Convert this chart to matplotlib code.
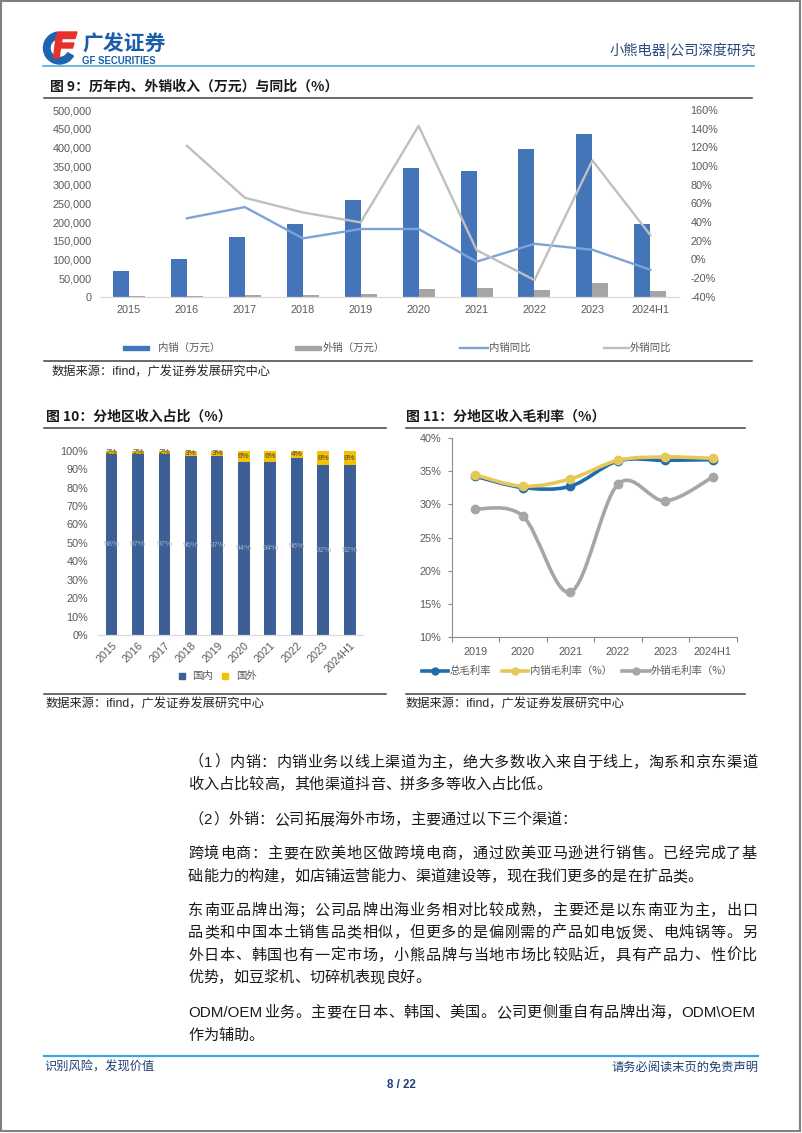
import matplotlib
matplotlib.use('Agg')
import matplotlib.pyplot as plt
import numpy as np
from matplotlib.path import Path
from matplotlib.patches import PathPatch, Rectangle, Wedge, Polygon
from matplotlib.lines import Line2D
from matplotlib.ticker import FuncFormatter, FixedLocator

plt.rcParams['font.family'] = ['Liberation Sans', 'Noto Sans CJK SC']

# ---------------- data ----------------
years = ['2015', '2016', '2017', '2018', '2019', '2020', '2021', '2022', '2023', '2024H1']
dom_rev = [70000, 101000, 159000, 196000, 260000, 345000, 336000, 395000, 435000, 195000]
exp_rev = [1400, 2100, 3300, 5800, 8200, 20000, 22500, 17000, 36000, 16000]
dom_yoy = [np.nan, 44.0, 56.0, 22.5, 32.5, 32.5, -2.5, 16.7, 10.3, -11.1]
exp_yoy = [np.nan, 121.7, 66.0, 50.3, 39.6, 143.0, 10.0, -22.2, 106.0, 26.0]

share_dom = [98, 97, 97, 96, 97, 94, 94, 96, 92, 92]
share_exp = [2, 2, 2, 3, 3, 6, 6, 4, 8, 8]

gm_years = ['2019', '2020', '2021', '2022', '2023', '2024H1']
gm_total = [34.2, 32.5, 32.7, 36.5, 36.6, 36.7]
gm_dom = [34.4, 32.7, 33.8, 36.6, 37.1, 36.9]
gm_exp = [29.3, 28.2, 16.8, 33.0, 30.5, 34.1]

W, H = 802, 1133
fig = plt.figure(figsize=(W / 100, H / 100), dpi=100)
fig.patch.set_facecolor('white')

def axrect(x0, y0, x1, y1):
    return [x0 / W, 1 - y1 / H, (x1 - x0) / W, (y1 - y0) / H]

# overlay in pixel coordinates
ov = fig.add_axes([0, 0, 1, 1], zorder=0)
ov.set_xlim(0, W)
ov.set_ylim(H, 0)
ov.axis('off')

TICK_C = '#595959'
TFS = 7.8
CJK = 'Noto Sans CJK SC'
MIX = ['Liberation Sans', 'Noto Sans CJK SC']

# page border
ov.add_patch(Rectangle((1, 1), 799, 1130, fill=False, ec='#808080', lw=1.5))

# ---------------- header ----------------
ov.add_patch(Wedge((59.5, 48), 16, 30, 262, width=6.5, color='#1E63B0'))
ov.add_patch(Polygon([(58, 32), (77, 32), (75, 38.5), (56, 38.5)], color='#E8302A'))
ov.add_patch(Polygon([(61, 43), (74, 43), (72.5, 48), (59.5, 48)], color='#E8302A'))
ov.add_patch(Polygon([(56, 38.5), (62, 38.5), (59, 58), (53.5, 58)], color='#E8302A'))
ov.text(82, 44, '广发证券', fontsize=15, fontweight='bold', color='#1C5DAA',
        family=CJK, ha='left', va='center')
ov.text(82.5, 61.5, 'GF SECURITIES', fontsize=6.9, fontweight='bold', color='#1C5DAA',
        family='Liberation Sans', ha='left', va='center')
ov.text(756, 51, '小熊电器|公司深度研究', fontsize=10.3, color='#2A4A7A', family=CJK,
        ha='right', va='center')
ov.add_line(Line2D([43, 754], [66, 66], color='#5FB3E4', lw=1.3))

# ---------------- titles, rules, sources ----------------
TITLE_C = '#1a1a1a'
ov.text(50, 87, '图 9：历年内、外销收入（万元）与同比（%）', fontsize=10, fontweight='bold',
        color=TITLE_C, family=CJK, ha='left', va='center')
ov.add_line(Line2D([44, 752], [98, 98], color='#404040', lw=1.1))
ov.add_line(Line2D([44, 752], [361, 361], color='#404040', lw=1.1))
ov.text(52, 372.5, '数据来源：ifind，广发证券发展研究中心', fontsize=8.8, color='#262626',
        family=MIX, ha='left', va='center')

ov.text(46, 417, '图 10：分地区收入占比（%）', fontsize=10, fontweight='bold',
        color=TITLE_C, family=CJK, ha='left', va='center')
ov.add_line(Line2D([44, 386], [428, 428], color='#404040', lw=1.1))
ov.add_line(Line2D([44, 386], [694.3, 694.3], color='#404040', lw=1.1))
ov.text(46, 704.5, '数据来源：ifind，广发证券发展研究中心', fontsize=8.8, color='#262626',
        family=MIX, ha='left', va='center')

ov.text(406, 417, '图 11：分地区收入毛利率（%）', fontsize=10, fontweight='bold',
        color=TITLE_C, family=CJK, ha='left', va='center')
ov.add_line(Line2D([406, 745], [428, 428], color='#404040', lw=1.1))
ov.add_line(Line2D([406, 745], [694.3, 694.3], color='#404040', lw=1.1))
ov.text(406, 704.5, '数据来源：ifind，广发证券发展研究中心', fontsize=8.8, color='#262626',
        family=MIX, ha='left', va='center')

# ---------------- chart 9 ----------------
C_DOM = '#4575B9'
C_EXP = '#A5A5A5'
C_DOMY = '#7EA2DA'
C_EXPY = '#BFBFBF'
ax9 = fig.add_axes(axrect(100, 110, 679.3, 296.7))
ax9.set_facecolor('none')
x = np.arange(len(years))
bw = 0.276
ax9.bar(x - bw / 2, dom_rev, bw, color=C_DOM, zorder=2)
ax9.bar(x + bw / 2, exp_rev, bw, color=C_EXP, zorder=2)
ax9.set_xlim(-0.5, len(years) - 0.5)
ax9.set_ylim(0, 500000)
ax9.set_yticks(np.arange(0, 500001, 50000))
ax9.yaxis.set_major_formatter(FuncFormatter(lambda v, p: f'{int(v):,}'))
ax9.set_xticks(x)
ax9.set_xticklabels(years)
ax9.tick_params(axis='both', length=0, labelsize=TFS, labelcolor=TICK_C)
ax9.tick_params(axis='y', pad=6)
ax9.tick_params(axis='x', pad=6)
for s in ['top', 'right', 'left']:
    ax9.spines[s].set_visible(False)
ax9.spines['bottom'].set_color('#D9D9D9')
ax9.spines['bottom'].set_linewidth(0.9)

ax9r = ax9.twinx()
ax9r.plot(x, dom_yoy, color=C_DOMY, lw=1.7, zorder=3)
ax9r.plot(x, exp_yoy, color=C_EXPY, lw=1.7, zorder=3)
ax9r.set_ylim(-40, 160)
ax9r.set_yticks(np.arange(-40, 161, 20))
ax9r.yaxis.set_major_formatter(FuncFormatter(lambda v, p: f'{v:.0f}%'))
ax9r.tick_params(axis='y', length=0, labelsize=TFS, labelcolor=TICK_C, pad=8)
for s in ax9r.spines.values():
    s.set_visible(False)

# legend chart 9
LEG_C = '#595959'
LFS = 7.5
ov.add_patch(Rectangle((123, 345.5), 26, 4.5, color=C_DOM))
ov.text(158, 347.7, '内销（万元）', fontsize=LFS, color=LEG_C, family=CJK, ha='left', va='center')
ov.add_patch(Rectangle((295, 345.5), 26, 4.5, color=C_EXP))
ov.text(323, 347.7, '外销（万元）', fontsize=LFS, color=LEG_C, family=CJK, ha='left', va='center')
ov.add_line(Line2D([460, 488], [347.7, 347.7], color=C_DOMY, lw=1.7))
ov.text(489, 347.7, '内销同比', fontsize=LFS, color=LEG_C, family=CJK, ha='left', va='center')
ov.add_line(Line2D([604, 629], [347.7, 347.7], color=C_EXPY, lw=1.7))
ov.text(630, 347.7, '外销同比', fontsize=LFS, color=LEG_C, family=CJK, ha='left', va='center')

# ---------------- chart 10 ----------------
C_GN = '#3C5F95'
C_GW = '#F5C200'
ax10 = fig.add_axes(axrect(98.3, 450.7, 363, 635))
ax10.set_facecolor('none')
sd = np.array(share_dom, float)
se = np.array(share_exp, float)
tot = sd + se
b1 = ax10.bar(x, sd / tot, 0.45, color=C_GN, zorder=2)
b2 = ax10.bar(x, se / tot, 0.45, bottom=sd / tot, color=C_GW, zorder=2)
ax10.bar_label(b1, labels=[f'{v}%' for v in share_dom], label_type='center',
               fontsize=5.8, color='#a3acbd')
ax10.bar_label(b2, labels=[f'{v}%' for v in share_exp], label_type='center',
               fontsize=5.8, color='#404040')
ax10.set_xlim(-0.5, len(years) - 0.5)
ax10.set_ylim(0, 1)
ax10.set_yticks(np.arange(0, 1.001, 0.1))
ax10.yaxis.set_major_formatter(FuncFormatter(lambda v, p: f'{v * 100:.0f}%'))
ax10.set_xticks(x)
ax10.set_xticklabels(years, rotation=45, ha='right', va='top', rotation_mode='anchor')
ax10.tick_params(axis='both', length=0, labelsize=TFS, labelcolor=TICK_C)
ax10.tick_params(axis='y', pad=7.4)
ax10.tick_params(axis='x', pad=4)
for s in ['top', 'right', 'left']:
    ax10.spines[s].set_visible(False)
ax10.spines['bottom'].set_color('#D9D9D9')
ax10.spines['bottom'].set_linewidth(0.9)

ov.add_patch(Rectangle((178.5, 673), 6, 6, color=C_GN))
ov.text(192, 676.5, '国内', fontsize=LFS, color=LEG_C, family=CJK, ha='left', va='center')
ov.add_patch(Rectangle((222, 673), 6, 6, color=C_GW))
ov.text(236, 676.5, '国外', fontsize=LFS, color=LEG_C, family=CJK, ha='left', va='center')

# ---------------- chart 11 ----------------
C_T = '#1F6CAB'
C_D = '#E8C75A'
C_E = '#A6A6A6'
ax11 = fig.add_axes(axrect(451.7, 437.7, 736.7, 637.3))
ax11.set_facecolor('none')
xg = np.arange(len(gm_years))

def smooth_patch(ax, xs, ys, color, lw, z):
    pts = np.column_stack([xs, ys]).astype(float)
    n = len(pts)
    verts = [tuple(pts[0])]
    codes = [Path.MOVETO]
    for i in range(n - 1):
        p0 = pts[i - 1] if i > 0 else pts[i]
        p1 = pts[i]
        p2 = pts[i + 1]
        p3 = pts[i + 2] if i + 2 < n else pts[i + 1]
        c1 = p1 + (p2 - p0) / 6.0
        c2 = p2 - (p3 - p1) / 6.0
        verts += [tuple(c1), tuple(c2), tuple(p2)]
        codes += [Path.CURVE4] * 3
    ax.add_patch(PathPatch(Path(verts, codes), fill=False, ec=color, lw=lw,
                           zorder=z, capstyle='round', joinstyle='round'))
    ax.plot(xs, ys, 'o', color=color, ms=6, zorder=z + 0.5)

smooth_patch(ax11, xg, gm_total, C_T, 2.6, 3)
smooth_patch(ax11, xg, gm_dom, C_D, 2.6, 4)
smooth_patch(ax11, xg, gm_exp, C_E, 2.6, 2)
ax11.set_xlim(-0.5, len(gm_years) - 0.5)
ax11.set_ylim(10, 40)
ax11.set_yticks(np.arange(10, 40.1, 5))
ax11.yaxis.set_major_formatter(FuncFormatter(lambda v, p: f'{v:.0f}%'))
ax11.set_xticks(xg)
ax11.set_xticklabels(gm_years)
ax11.xaxis.set_minor_locator(FixedLocator(np.arange(-0.5, len(gm_years), 1.0)))
ax11.tick_params(axis='x', which='major', length=0, labelsize=TFS, labelcolor=TICK_C, pad=7)
ax11.tick_params(axis='x', which='minor', length=3.5, color='#8c8c8c', width=0.8)
ax11.tick_params(axis='y', length=3, color='#8c8c8c', width=0.8, labelsize=TFS,
                 labelcolor=TICK_C, pad=4.5)
for s in ['top', 'right']:
    ax11.spines[s].set_visible(False)
for s in ['left', 'bottom']:
    ax11.spines[s].set_color('#8c8c8c')
    ax11.spines[s].set_linewidth(0.8)

for (x0, x1, tx, col, lab) in [(421.7, 448.3, 450, C_T, '总毛利率'),
                               (501.7, 528.3, 530, C_D, '内销毛利率（%）'),
                               (621.7, 650, 651, C_E, '外销毛利率（%）')]:
    ov.add_line(Line2D([x0, x1], [671, 671], color=col, lw=2.6))
    ov.add_line(Line2D([(x0 + x1) / 2], [671], color=col, marker='o', ms=5, lw=0))
    ov.text(tx, 671, lab, fontsize=LFS, color=LEG_C, family=CJK, ha='left', va='center')

# ---------------- body text ----------------
fs_body = 10.9
em = fs_body * 100 / 72
X0, X1 = 188, 757
renderer = fig.canvas.get_renderer()
BODY_C = '#1a1a1a'

def measure(s):
    t = ov.text(0, 0, s, fontsize=fs_body, family='Liberation Sans')
    w = t.get_window_extent(renderer).width
    t.remove()
    return w

def draw_line(y, s, justify):
    tokens = []
    buf = ''
    for ch in s:
        if ord(ch) < 128:
            buf += ch
        else:
            if buf:
                tokens.append(('a', buf))
                buf = ''
            tokens.append(('c', ch))
    if buf:
        tokens.append(('a', buf))
    widths = [em if k == 'c' else measure(t) + 0.12 * em for k, t in tokens]
    total = sum(widths)
    gap = (X1 - X0 - total) / (len(tokens) - 1) if justify else 0.0
    xx = X0
    base = y + 0.37 * em
    for (k, t), w in zip(tokens, widths):
        fam = CJK if k == 'c' else 'Liberation Sans'
        ov.text(xx, base, t, ha='left', va='baseline', fontsize=fs_body,
                family=fam, color=BODY_C)
        xx += w + gap

body = [
    (761, '（1）内销：内销业务以线上渠道为主，绝大多数收入来自于线上，淘系和京东渠道', True),
    (783.5, '收入占比较高，其他渠道抖音、拼多多等收入占比低。', False),
    (818.5, '（2）外销：公司拓展海外市场，主要通过以下三个渠道：', False),
    (852.5, '跨境电商：主要在欧美地区做跨境电商，通过欧美亚马逊进行销售。已经完成了基', True),
    (875, '础能力的构建，如店铺运营能力、渠道建设等，现在我们更多的是在扩品类。', False),
    (909, '东南亚品牌出海；公司品牌出海业务相对比较成熟，主要还是以东南亚为主，出口', True),
    (931.5, '品类和中国本土销售品类相似，但更多的是偏刚需的产品如电饭煲、电炖锅等。另', True),
    (954, '外日本、韩国也有一定市场，小熊品牌与当地市场比较贴近，具有产品力、性价比', True),
    (976.5, '优势，如豆浆机、切碎机表现良好。', False),
    (1011.5, 'ODM/OEM业务。主要在日本、韩国、美国。公司更侧重自有品牌出海，ODM\\OEM', True),
    (1034, '作为辅助。', False),
]
for y, s, j in body:
    draw_line(y, s, j)

# ---------------- footer ----------------
ov.add_line(Line2D([44, 758], [1056, 1056], color='#3DA5E0', lw=1.6))
ov.text(44, 1067, '识别风险，发现价值', fontsize=8.8, color='#1F3F73', family=CJK,
        ha='left', va='center')
ov.text(758, 1067, '请务必阅读末页的免责声明', fontsize=8.8, color='#1F3F73', family=CJK,
        ha='right', va='center')
ov.text(401, 1085, '8 / 22', fontsize=8.3, fontweight='bold', color='#1F3F73',
        family='Liberation Sans', ha='center', va='center')

fig.savefig('out.png', dpi=100, facecolor='white')
